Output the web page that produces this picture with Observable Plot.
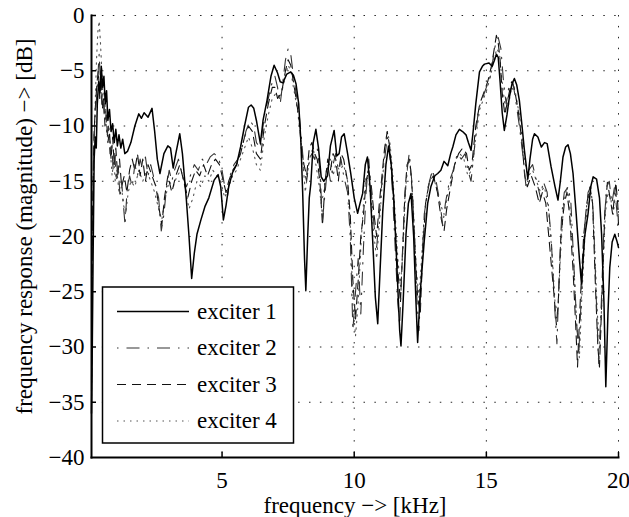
<!DOCTYPE html>
<html><head><meta charset="utf-8">
<script src="https://cdn.jsdelivr.net/npm/d3@7"></script>
<script src="https://cdn.jsdelivr.net/npm/@observablehq/plot@0.6"></script>
<style>
body{margin:0;background:#fff}
#chart{position:relative;width:629px;height:517px}
</style>
</head><body><div id="chart"></div>
<script>
// ---- data: [frequency kHz, magnitude dB] ----
const exciter1 = [[0.06,-36],[0.09,-30],[0.12,-22],[0.16,-13],[0.2,-11],[0.24,-12],[0.28,-8],[0.33,-6],[0.38,-7],[0.43,-4.6],[0.48,-6.5],[0.53,-5.5],[0.58,-8],[0.63,-6.8],[0.68,-9.5],[0.74,-8.5],[0.8,-10.5],[0.86,-9.8],[0.92,-11.5],[0.98,-10.3],[1.04,-11.8],[1.1,-10.8],[1.17,-12],[1.24,-11.2],[1.32,-12.5],[1.42,-12.3],[1.55,-11.5],[1.7,-10],[1.85,-8.9],[1.95,-9.3],[2.05,-8.8],[2.2,-9.2],[2.35,-8.4],[2.45,-10.5],[2.55,-13],[2.65,-14.3],[2.8,-12.5],[2.95,-11.8],[3.05,-12],[3.15,-13.8],[3.25,-12.5],[3.4,-10.7],[3.5,-12.5],[3.65,-16.7],[3.75,-20],[3.85,-23.8],[3.95,-21.5],[4.05,-19.8],[4.2,-18.5],[4.35,-17.3],[4.5,-16.5],[4.7,-14.9],[4.85,-14.4],[4.95,-15.5],[5.05,-18.5],[5.15,-17.2],[5.25,-15.5],[5.4,-14.2],[5.55,-13.5],[5.7,-11.9],[5.85,-10],[6.0,-8.3],[6.1,-8.1],[6.2,-8.4],[6.3,-9.5],[6.45,-11.6],[6.55,-9.5],[6.7,-7.7],[6.85,-5.5],[6.97,-4.5],[7.1,-5.2],[7.2,-6],[7.3,-6.1],[7.45,-5.3],[7.6,-5.1],[7.7,-5.4],[7.8,-6.2],[7.9,-8],[7.98,-11.3],[8.05,-16],[8.12,-22],[8.17,-24.9],[8.24,-20],[8.3,-16.5],[8.36,-15.2],[8.45,-11.5],[8.55,-10.3],[8.65,-12],[8.75,-14.6],[8.85,-15],[8.99,-14.5],[9.1,-11.8],[9.24,-10.4],[9.34,-12.7],[9.43,-12.5],[9.52,-11],[9.62,-10.7],[9.75,-12.5],[9.87,-14.3],[10.0,-16.5],[10.13,-17.9],[10.22,-17],[10.32,-16.1],[10.42,-13.5],[10.5,-12.8],[10.6,-15.5],[10.7,-20.4],[10.8,-25.5],[10.89,-27.9],[10.98,-23],[11.08,-17.7],[11.2,-13.5],[11.3,-11.8],[11.4,-13.5],[11.5,-16.7],[11.62,-23],[11.72,-28.5],[11.77,-29.9],[11.85,-26],[11.96,-19.8],[12.05,-17],[12.15,-16.1],[12.25,-20],[12.33,-25.5],[12.4,-29.6],[12.5,-25],[12.65,-20.4],[12.78,-17],[12.9,-15.5],[13.05,-14.5],[13.16,-14.3],[13.28,-14],[13.4,-13.2],[13.54,-13.6],[13.65,-12.5],[13.73,-11.9],[13.85,-10.8],[13.98,-10.3],[14.1,-10.5],[14.23,-10.8],[14.32,-11.5],[14.42,-12.2],[14.5,-10.5],[14.6,-8],[14.74,-5.1],[14.85,-4.6],[14.93,-4.4],[15.1,-4.3],[15.22,-4.6],[15.3,-4.1],[15.38,-3.5],[15.45,-3.8],[15.52,-6],[15.6,-8.8],[15.68,-10.4],[15.78,-9],[15.87,-7.4],[15.97,-6.2],[16.06,-5.7],[16.15,-6.3],[16.25,-7.7],[16.35,-10],[16.44,-12.2],[16.57,-14.8],[16.65,-13],[16.75,-11.2],[16.82,-10.7],[16.95,-11],[17.08,-11.9],[17.2,-11.5],[17.3,-11.6],[17.45,-13.7],[17.6,-15.5],[17.71,-16.7],[17.8,-15],[17.9,-12.8],[18.0,-11.9],[18.09,-11.7],[18.18,-12.5],[18.28,-14.3],[18.4,-18],[18.52,-22],[18.6,-24.3],[18.72,-20],[18.85,-17.9],[18.95,-15.5],[19.04,-14.6],[19.17,-14.8],[19.28,-16.5],[19.36,-19.8],[19.45,-26],[19.52,-33.6],[19.6,-27],[19.67,-22.8],[19.76,-20.5],[19.86,-19.8],[19.95,-20.5],[20.0,-21]];

const exciter2 = [[0.06,-34],[0.1,-20],[0.15,-12],[0.2,-9],[0.25,-7.5],[0.3,-5.5],[0.35,-3.5],[0.4,-6],[0.45,-8],[0.5,-7],[0.55,-9.5],[0.6,-8.5],[0.65,-11],[0.7,-10],[0.76,-12.5],[0.82,-11.5],[0.88,-14],[0.94,-12.5],[1.0,-15],[1.07,-13.5],[1.14,-16.5],[1.2,-15],[1.28,-17.5],[1.33,-19],[1.4,-16],[1.5,-14.5],[1.6,-15.5],[1.7,-13.5],[1.8,-14.5],[1.9,-13],[2.0,-14],[2.1,-12.8],[2.2,-14.5],[2.3,-13.5],[2.45,-15],[2.6,-16.5],[2.7,-19.5],[2.8,-18],[2.9,-15.5],[3.0,-14],[3.1,-15],[3.2,-14],[3.35,-13],[3.5,-14.5],[3.65,-15.5],[3.8,-14.5],[3.95,-13.5],[4.1,-14],[4.25,-13],[4.4,-13.5],[4.55,-12.8],[4.7,-12.5],[4.85,-12.8],[5.0,-14],[5.1,-15.5],[5.2,-16.5],[5.3,-14.5],[5.45,-13.5],[5.6,-13],[5.75,-12],[5.9,-10.5],[6.05,-9.5],[6.2,-10],[6.3,-11.5],[6.45,-12],[6.6,-9],[6.75,-7.5],[6.9,-6],[7.0,-5.5],[7.1,-6.5],[7.2,-8],[7.3,-6],[7.4,-4],[7.5,-3],[7.6,-3.5],[7.7,-5.5],[7.8,-7],[7.9,-8.5],[8.0,-11],[8.1,-14],[8.2,-15],[8.3,-13],[8.4,-12.5],[8.5,-13],[8.6,-12],[8.7,-14],[8.8,-18.5],[8.9,-16],[9.0,-13.5],[9.1,-15],[9.2,-13.5],[9.3,-12.5],[9.4,-14],[9.5,-13],[9.6,-14.5],[9.75,-16],[9.85,-20],[9.95,-28.5],[10.05,-25],[10.15,-22],[10.25,-27],[10.35,-21],[10.45,-16],[10.55,-13],[10.65,-16],[10.75,-19],[10.85,-21],[10.95,-18],[11.05,-15],[11.15,-13],[11.25,-11],[11.35,-12.5],[11.45,-16],[11.55,-21],[11.65,-26],[11.72,-28],[11.8,-23],[11.9,-17],[12.0,-14],[12.08,-12.5],[12.18,-15],[12.28,-20],[12.38,-26],[12.45,-28.5],[12.55,-23],[12.65,-18],[12.8,-15.5],[12.95,-14],[13.1,-15],[13.25,-17],[13.35,-19],[13.45,-17],[13.6,-15],[13.75,-14],[13.9,-12.5],[14.05,-13],[14.2,-12.5],[14.3,-14],[14.42,-15],[14.55,-12],[14.7,-8.5],[14.85,-7.5],[15.0,-6.5],[15.15,-5.5],[15.25,-4],[15.35,-2.5],[15.45,-2],[15.55,-3],[15.65,-6],[15.75,-8],[15.85,-6.5],[16.0,-6],[16.1,-7.5],[16.25,-10],[16.4,-13],[16.5,-15.5],[16.6,-14],[16.75,-13.5],[16.9,-15],[17.05,-16.5],[17.15,-15],[17.3,-16],[17.45,-20],[17.6,-27],[17.67,-29.7],[17.75,-24],[17.85,-18],[17.95,-16],[18.1,-15.5],[18.2,-17],[18.3,-22],[18.42,-28],[18.5,-30.5],[18.6,-25],[18.72,-19],[18.85,-16],[18.95,-15.5],[19.05,-18],[19.15,-25],[19.25,-31.5],[19.35,-26],[19.45,-19],[19.55,-15.5],[19.65,-15],[19.75,-17],[19.85,-15.5],[19.95,-18],[20.0,-20]];

const exciter3 = [[0.06,-33],[0.1,-18],[0.15,-11],[0.2,-8.5],[0.27,-6],[0.32,-5],[0.37,-7.5],[0.42,-5],[0.47,-8.5],[0.52,-7.5],[0.57,-10],[0.62,-9],[0.68,-11.5],[0.74,-10.5],[0.8,-13],[0.86,-11],[0.92,-13.5],[0.98,-12],[1.05,-14.5],[1.12,-13],[1.2,-15.5],[1.3,-14.5],[1.4,-16],[1.5,-14],[1.6,-13],[1.7,-14],[1.8,-12.5],[1.9,-14.5],[2.0,-13],[2.1,-15],[2.2,-13.5],[2.35,-14.5],[2.5,-15.5],[2.62,-17.5],[2.72,-19],[2.82,-16.5],[2.95,-14.5],[3.1,-16],[3.25,-14.5],[3.4,-13.5],[3.55,-15],[3.7,-16.5],[3.85,-15],[4.0,-14],[4.15,-14.5],[4.3,-13.5],[4.45,-14.5],[4.6,-13.5],[4.75,-13],[4.9,-13.5],[5.05,-15],[5.15,-16],[5.25,-15],[5.4,-14],[5.55,-13.5],[5.7,-12.5],[5.85,-11],[6.0,-10],[6.15,-10.5],[6.3,-12.5],[6.45,-13],[6.6,-10],[6.75,-8],[6.9,-6.5],[7.0,-6.5],[7.1,-7.5],[7.25,-7],[7.4,-5],[7.5,-4],[7.6,-4.5],[7.7,-6],[7.8,-7.5],[7.92,-9.5],[8.0,-12],[8.1,-13.5],[8.2,-14.5],[8.3,-12],[8.4,-11.5],[8.5,-12.5],[8.6,-13],[8.7,-15],[8.8,-19],[8.9,-15],[9.0,-13],[9.1,-14],[9.2,-12.5],[9.3,-13],[9.4,-15],[9.5,-12.5],[9.6,-13],[9.75,-15],[9.85,-18],[9.95,-24],[10.05,-27.5],[10.15,-24],[10.25,-20],[10.35,-18],[10.45,-15],[10.55,-14],[10.65,-15.5],[10.75,-18],[10.85,-20],[10.95,-17],[11.05,-14.5],[11.15,-12],[11.25,-10.5],[11.35,-12],[11.45,-15],[11.55,-19],[11.65,-23],[11.75,-26],[11.82,-22],[11.92,-16],[12.0,-13.5],[12.1,-13],[12.2,-16],[12.3,-21],[12.4,-25.5],[12.5,-27],[12.6,-21],[12.7,-17],[12.85,-15],[13.0,-14.5],[13.15,-16],[13.3,-18.5],[13.4,-19.5],[13.5,-17.5],[13.65,-15.5],[13.8,-13.5],[13.95,-12.5],[14.1,-12],[14.25,-12.5],[14.35,-14],[14.45,-13.5],[14.6,-10],[14.75,-8],[14.9,-7],[15.05,-6],[15.2,-4.5],[15.3,-3],[15.38,-1.8],[15.45,-2.5],[15.52,-4],[15.6,-7],[15.7,-9],[15.82,-7.5],[15.95,-6],[16.05,-6.5],[16.2,-8.5],[16.35,-11.5],[16.45,-14.5],[16.55,-15.5],[16.7,-14.5],[16.85,-15.5],[17.0,-17],[17.12,-16],[17.25,-17],[17.4,-21],[17.55,-25],[17.65,-28],[17.72,-26],[17.82,-20],[17.95,-17],[18.05,-16],[18.15,-18],[18.28,-23],[18.38,-28],[18.45,-31.8],[18.55,-26],[18.68,-20],[18.8,-17],[18.92,-15.5],[19.02,-17],[19.12,-24],[19.22,-30],[19.28,-31.8],[19.38,-25],[19.48,-18],[19.58,-15.1],[19.68,-16.5],[19.78,-18],[19.9,-15.1],[19.97,-17],[20.0,-19]];

const exciter4 = [[0.06,-35],[0.1,-22],[0.15,-12],[0.2,-8],[0.25,-4],[0.3,-1.5],[0.35,-0.5],[0.4,-2.5],[0.45,-5],[0.5,-8],[0.55,-7],[0.6,-9.5],[0.66,-11],[0.72,-10],[0.78,-12.5],[0.84,-14.5],[0.9,-13],[0.96,-15],[1.02,-14],[1.1,-16],[1.18,-15],[1.26,-17],[1.35,-18],[1.45,-16],[1.55,-15],[1.7,-15.5],[1.85,-14],[2.0,-15],[2.15,-14],[2.3,-15],[2.45,-16],[2.6,-17.5],[2.72,-18.5],[2.85,-16.5],[3.0,-15],[3.15,-15.5],[3.3,-14.5],[3.45,-14],[3.6,-15.5],[3.75,-17.5],[3.9,-16.5],[4.05,-15],[4.2,-15.5],[4.35,-14.5],[4.5,-15],[4.65,-14],[4.8,-14.5],[4.95,-15],[5.1,-16.5],[5.25,-15.5],[5.4,-14.5],[5.55,-14],[5.7,-13],[5.85,-12],[6.0,-11],[6.15,-12],[6.3,-13.5],[6.45,-14],[6.6,-11],[6.75,-9],[6.9,-7.5],[7.05,-7],[7.2,-7.5],[7.35,-6],[7.5,-4.5],[7.6,-5],[7.7,-6.5],[7.85,-8.5],[7.95,-10.5],[8.05,-13],[8.15,-16],[8.25,-14],[8.35,-12.5],[8.45,-12],[8.55,-13.5],[8.65,-15],[8.75,-17],[8.85,-16],[8.95,-14],[9.1,-13],[9.2,-14.5],[9.3,-13.5],[9.45,-14],[9.6,-13.5],[9.75,-15],[9.85,-19],[9.95,-26],[10.05,-29],[10.15,-26],[10.25,-21],[10.35,-17],[10.45,-14.5],[10.55,-15],[10.65,-17],[10.75,-20],[10.85,-22],[10.95,-19],[11.05,-15.5],[11.15,-12.5],[11.25,-10.5],[11.35,-11.5],[11.45,-14],[11.55,-18],[11.65,-22],[11.75,-24.5],[11.85,-21],[11.95,-15.5],[12.05,-13],[12.15,-14],[12.25,-18],[12.35,-23],[12.45,-25.5],[12.55,-22],[12.65,-18],[12.8,-15.5],[12.95,-14.2],[13.1,-15.5],[13.25,-17],[13.4,-18],[13.55,-16],[13.7,-14.5],[13.85,-13],[14.0,-12.5],[14.15,-13],[14.3,-14.5],[14.45,-14],[14.6,-11],[14.75,-8.5],[14.9,-7.5],[15.05,-6.5],[15.2,-5],[15.3,-3.8],[15.4,-3],[15.5,-3.5],[15.6,-6],[15.72,-8.5],[15.85,-8],[15.95,-6.5],[16.1,-7],[16.25,-9],[16.4,-12],[16.5,-14],[16.6,-14.5],[16.75,-14],[16.9,-15],[17.05,-16],[17.2,-15.5],[17.35,-17.5],[17.5,-22],[17.6,-26],[17.7,-27],[17.8,-22],[17.92,-17],[18.05,-15.5],[18.15,-17],[18.3,-22],[18.42,-28],[18.52,-31],[18.62,-25],[18.75,-19],[18.88,-16],[19.0,-16.5],[19.1,-21],[19.2,-27],[19.3,-30],[19.4,-24],[19.5,-18],[19.6,-16],[19.7,-16.5],[19.8,-18],[19.9,-16],[20.0,-18]];

const seriesNames = ["exciter 1", "exciter 2", "exciter 3", "exciter 4"];
const xTicks = [5, 10, 15, 20];
const yTicks = [0, -5, -10, -15, -20, -25, -30, -35, -40];
const xLabel = "frequency −> [kHz]";
const yLabel = "frequency response (magnitude) −> [dB]";

// ---- styles ----
const FONT = "'Liberation Serif', 'Times New Roman', serif";
const FS = 23;
const styles = [
  {stroke: "#000", strokeWidth: 1.5, dash: null},
  {stroke: "#333", strokeWidth: 1.1, dash: "1.5,8,13,8"},
  {stroke: "#111", strokeWidth: 1.1, dash: "9,6"},
  {stroke: "#555", strokeWidth: 1.1, dash: "1.5,5"}
];
const data = [exciter1, exciter2, exciter3, exciter4];

const gridDash = "1.5,9.4";
const chart = Plot.plot({
  width: 629, height: 517,
  marginLeft: 91, marginRight: 11, marginTop: 15, marginBottom: 60,
  style: {fontFamily: FONT, fontSize: FS + "px", background: "#fff", color: "#000"},
  x: {domain: [0.06, 20]},
  y: {domain: [-40, 0]},
  marks: [
    Plot.ruleX(xTicks, {stroke: "#000", strokeOpacity: 0.85, strokeDasharray: gridDash, strokeWidth: 1}),
    Plot.ruleY(yTicks.filter(d => d > -40), {stroke: "#000", strokeOpacity: 0.85, strokeDasharray: gridDash, strokeWidth: 1}),
    ...data.map((d, i) => Plot.line(d, {
      x: p => p[0], y: p => p[1],
      stroke: styles[i].stroke, strokeWidth: styles[i].strokeWidth,
      strokeDasharray: styles[i].dash, strokeLinejoin: "round", curve: "linear"
    })).reverse(),
    // inward ticks
    Plot.ruleX(xTicks, {y1: -40, y2: -40, insetTop: -5, stroke: "#000", strokeWidth: 1.5}),
    Plot.ruleY(yTicks.filter(d => d > -40), {x1: 0.06, x2: 0.06, insetRight: -5, stroke: "#000", strokeWidth: 1.5}),
    Plot.frame({anchor: "left", strokeWidth: 2}),
    Plot.frame({anchor: "bottom", strokeWidth: 2}),
    Plot.axisX({ticks: xTicks, tickSize: 0, tickPadding: 14, label: null, fontSize: FS, fontFamily: FONT}),
    Plot.axisY({ticks: yTicks, tickSize: 0, tickPadding: 7, label: null, fontSize: FS, fontFamily: FONT}),
    Plot.text([xLabel], {frameAnchor: "bottom", dy: 48, lineAnchor: "middle", text: d => d, fontSize: FS, fontFamily: FONT, textAnchor: "middle"}),
    Plot.text([yLabel], {frameAnchor: "left", dx: -66.4, dy: -10, lineAnchor: "middle", rotate: -90, text: d => d, fontSize: FS, fontFamily: FONT, textAnchor: "middle"})
  ]
});
document.getElementById("chart").appendChild(chart);

// ---- legend (box with line samples) ----
const svg = d3.select(chart);
const lg = svg.append("g");
lg.append("rect").attr("x", 102.5).attr("y", 287).attr("width", 191).attr("height", 156)
  .attr("fill", "#fff").attr("stroke", "#000").attr("stroke-width", 1.5);
const rowY = [311.5, 348, 384.5, 421];
seriesNames.forEach((name, i) => {
  lg.append("line").attr("x1", 117).attr("x2", 189).attr("y1", rowY[i]).attr("y2", rowY[i])
    .attr("stroke", styles[i].stroke).attr("stroke-width", styles[i].strokeWidth)
    .attr("stroke-dasharray", styles[i].dash);
  lg.append("text").attr("x", 197).attr("y", rowY[i]).attr("dy", "0.32em")
    .attr("text-anchor", "start")
    .attr("font-family", FONT).attr("font-size", FS).attr("fill", "#000").text(name);
});
</script>
</body></html>
